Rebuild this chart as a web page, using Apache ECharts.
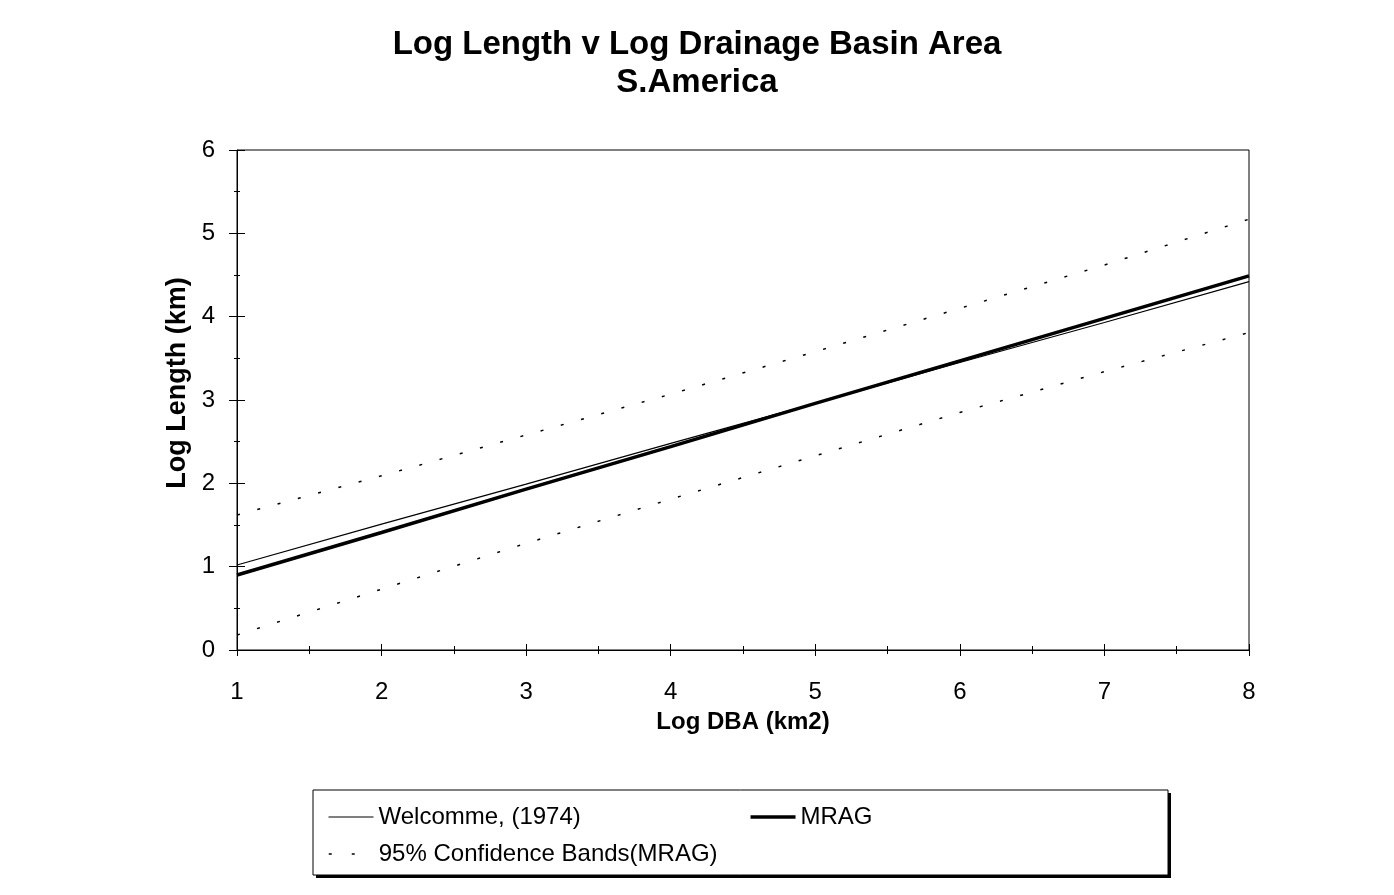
<!DOCTYPE html>
<html>
<head>
<meta charset="utf-8">
<script src="https://cdn.jsdelivr.net/npm/echarts@6/dist/echarts.min.js"></script>
<style>
html,body{margin:0;padding:0;background:#fff;}
#chart{width:1394px;height:895px;}
</style>
</head>
<body>
<div id="chart"></div>
<script>
// ---- data ----
var logDBA = [1, 2, 3, 4, 5, 6, 7, 8];
var welcomme = [1.02, 1.51, 1.99, 2.48, 2.96, 3.45, 3.93, 4.42];
var mrag = [0.90, 1.41, 1.93, 2.44, 2.96, 3.47, 3.98, 4.49];
var upperBand = [1.62, 2.09, 2.58, 3.07, 3.58, 4.10, 4.62, 5.17];
var lowerBand = [0.18, 0.73, 1.28, 1.81, 2.33, 2.85, 3.34, 3.81];
var xTicks = [1, 2, 3, 4, 5, 6, 7, 8];
var yTicks = [0, 1, 2, 3, 4, 5, 6];

var titleText = 'Log Length v Log Drainage Basin Area\nS.America';
var xName = 'Log DBA (km2)';
var yName = 'Log Length (km)';
var nameWelcomme = 'Welcomme, (1974)';
var nameMrag = 'MRAG';
var nameBands = '95% Confidence Bands(MRAG)';

function pairs(xs, ys) { return xs.map(function (x, i) { return [x, ys[i]]; }); }

var FONT = 'Liberation Sans, Arial, sans-serif';
var chart = echarts.init(document.getElementById('chart'), null, {renderer: 'canvas'});

var xBase = {
  type: 'value', min: xTicks[0], max: xTicks[xTicks.length - 1], interval: 1,
  position: 'bottom', offset: 0,
  splitLine: {show: false},
  axisLine: {show: true, lineStyle: {color: '#000', width: 1}},
  minorTick: {show: true, splitNumber: 2, length: 4, lineStyle: {color: '#000'}},
  minorSplitLine: {show: false}
};
var yBase = {
  type: 'value', min: yTicks[0], max: yTicks[yTicks.length - 1], interval: 1,
  position: 'left', offset: 0,
  splitLine: {show: false},
  axisLine: {show: true, lineStyle: {color: '#000', width: 1}},
  minorTick: {show: true, splitNumber: 2, length: 3, lineStyle: {color: '#000'}},
  minorSplitLine: {show: false}
};

var hiddenSymbol = {opacity: 0, color: 'transparent', borderColor: 'transparent', borderWidth: 0};

var option = {
  backgroundColor: '#fff',
  animation: false,
  title: {
    text: titleText,
    left: 'center',
    top: 21,
    textStyle: {fontFamily: FONT, fontWeight: 'bold', fontSize: 33, lineHeight: 38, color: '#000'}
  },
  grid: {
    left: 237, right: 145, top: 150, bottom: 245,
    show: true, borderColor: '#000', borderWidth: 1, backgroundColor: 'transparent'
  },
  xAxis: [
    Object.assign({}, xBase, {
      name: xName, nameLocation: 'middle', nameGap: 60,
      nameTextStyle: {fontFamily: FONT, fontWeight: 'bold', fontSize: 24, color: '#000'},
      axisTick: {show: true, inside: false, length: 6, lineStyle: {color: '#000'}},
      axisLabel: {show: true, margin: 30, fontFamily: FONT, fontSize: 24, color: '#000'}
    }),
    Object.assign({}, xBase, {
      axisLine: {show: false},
      axisTick: {show: true, inside: true, length: 6, lineStyle: {color: '#000'}},
      minorTick: {show: true, splitNumber: 2, length: 4, lineStyle: {color: '#000'}},
      axisLabel: {show: false}
    })
  ],
  yAxis: [
    Object.assign({}, yBase, {
      name: yName, nameLocation: 'middle', nameGap: 44, nameRotate: 90,
      nameTextStyle: {fontFamily: FONT, fontWeight: 'bold', fontSize: 27, color: '#000', padding: [0, 0, 0, 34]},
      axisTick: {show: true, inside: false, length: 8, lineStyle: {color: '#000'}},
      axisLabel: {show: true, margin: 22, fontFamily: FONT, fontSize: 24, color: '#000'}
    }),
    Object.assign({}, yBase, {
      axisLine: {show: false},
      axisTick: {show: true, inside: true, length: 8, lineStyle: {color: '#000'}},
      minorTick: {show: true, splitNumber: 2, length: 3, lineStyle: {color: '#000'}},
      axisLabel: {show: false}
    })
  ],
  graphic: [
    {
      type: 'rect', z: 0,
      shape: {x: 316, y: 793, width: 855, height: 85},
      style: {fill: '#000', stroke: null}
    },
    {
      type: 'rect', z: 1,
      shape: {x: 313, y: 790, width: 855, height: 85},
      style: {fill: '#fff', stroke: '#000', lineWidth: 1}
    }
  ],
  legend: [
    {
      data: [
        {name: nameWelcomme, lineStyle: {width: 1, color: '#000'}},
        {name: nameMrag, lineStyle: {width: 3.5, color: '#000'}}
      ],
      left: 328, top: 805, orient: 'horizontal',
      itemWidth: 45, itemHeight: 14, itemGap: 168, padding: 0, z: 10,
      itemStyle: hiddenSymbol,
      textStyle: {fontFamily: FONT, fontSize: 24, color: '#000'},
      selectedMode: false
    },
    {
      data: [
        {name: nameBands, lineStyle: {width: 1.5, color: '#000', type: [3, 20]}}
      ],
      left: 328, top: 842, orient: 'horizontal',
      itemWidth: 45, itemHeight: 14, padding: 0, z: 10,
      itemStyle: hiddenSymbol,
      textStyle: {fontFamily: FONT, fontSize: 24, color: '#000'},
      selectedMode: false
    }
  ],
  series: [
    {
      name: nameBands, type: 'line', data: pairs(logDBA, upperBand),
      symbol: 'none', showSymbol: false, silent: true,
      itemStyle: {color: '#000'},
      lineStyle: {color: '#000', width: 1.5, type: [3, 18]}, z: 2
    },
    {
      name: nameBands, type: 'line', data: pairs(logDBA, lowerBand),
      symbol: 'none', showSymbol: false, silent: true,
      itemStyle: {color: '#000'},
      lineStyle: {color: '#000', width: 1.5, type: [3, 18]}, z: 2
    },
    {
      name: nameWelcomme, type: 'line', data: pairs(logDBA, welcomme),
      symbol: 'none', showSymbol: false, silent: true,
      itemStyle: {color: '#000'},
      lineStyle: {color: '#000', width: 1.2}, z: 3
    },
    {
      name: nameMrag, type: 'line', data: pairs(logDBA, mrag),
      symbol: 'none', showSymbol: false, silent: true,
      itemStyle: {color: '#000'},
      lineStyle: {color: '#000', width: 3.5}, z: 4
    }
  ]
};
chart.setOption(option);
</script>
</body>
</html>
